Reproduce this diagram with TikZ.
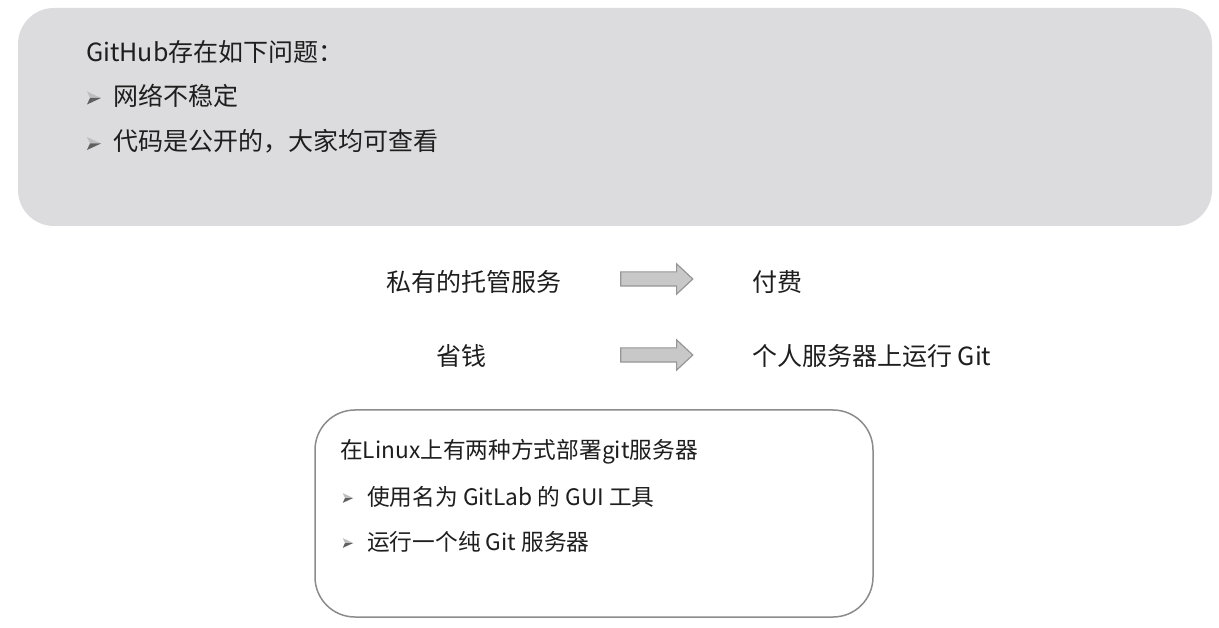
\documentclass[tikz,border=0pt]{standalone}
\usepackage{fontspec}
\setmainfont{Noto Sans CJK SC}
\usetikzlibrary{shapes.arrows}
\definecolor{topfill}{RGB}{220,220,222}
\definecolor{txt}{RGB}{30,30,30}
\definecolor{arrfill}{RGB}{200,200,200}
\definecolor{arrline}{RGB}{150,150,150}
\definecolor{boxline}{RGB}{140,140,140}
\definecolor{bullight}{RGB}{190,190,192}
\definecolor{buldark}{RGB}{95,95,95}
\tikzset{
  big/.style={anchor=base west, inner sep=0pt, font=\fontsize{25}{30}\selectfont, text=txt},
  small/.style={anchor=base west, inner sep=0pt, font=\fontsize{22.7}{27}\selectfont, text=txt},
  pics/bularrow/.style={code={
    \fill[bullight] (-7,-6.5) -- (7,0) -- (-4,0) -- cycle;
    \fill[buldark] (-4,0) -- (7,0) -- (-7,6.5) -- cycle;
  }},
  blockarrow/.style={single arrow, draw=arrline, fill=arrfill, line width=1.2pt,
    minimum height=72pt, minimum width=30pt, inner xsep=0pt, inner ysep=6.5pt,
    single arrow head extend=8pt, single arrow tip angle=86},
}
\begin{document}
\begin{tikzpicture}[x=1pt,y=-1pt]
\useasboundingbox (0,0) rectangle (1219,628);
\fill[white] (0,0) rectangle (1219,628);
% top box
\node[fill=topfill, rounded corners=36pt, minimum width=1194pt, minimum height=218pt, inner sep=0pt] (topbox) at (615,117) {};
\node[big] (t1) at (86,62) {GitHub存在如下问题：};
\pic at (94,98) {bularrow};
\node[big] (t2) at (113,106) {网络不稳定};
\pic at (94,143.5) {bularrow};
\node[big] (t3) at (113,151) {代码是公开的，大家均可查看};
% middle rows
\node[big] (m1) at (386,292) {私有的托管服务};
\node[blockarrow] (a1) at (653,279) {};
\node[big] (r1) at (752,292) {付费};
\node[big] (m2) at (436,366) {省钱};
\node[blockarrow] (a2) at (653,355) {};
\node[big] (r2) at (752,366) {个人服务器上运行 Git};
% bottom box
\node[draw=boxline, line width=1.5pt, fill=white, rounded corners=40pt, minimum width=558pt, minimum height=207pt, inner sep=0pt] (botbox) at (594,513.5) {};
\node[small] (s1) at (340,458) {在Linux上有两种方式部署git服务器};
\pic[scale=0.75] at (348,498) {bularrow};
\node[small] (s2) at (367,505) {使用名为 GitLab 的 GUI 工具};
\pic[scale=0.75] at (348,543) {bularrow};
\node[small] (s3) at (367,550) {运行一个纯 Git 服务器};
\end{tikzpicture}
\end{document}
